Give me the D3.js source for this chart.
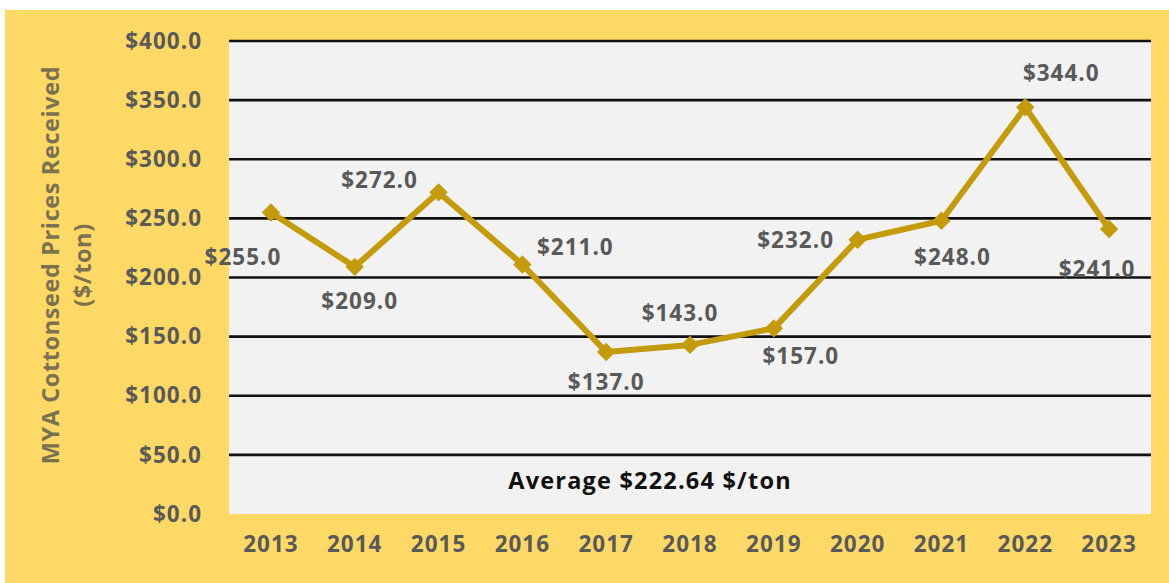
<!DOCTYPE html>
<html><head><meta charset="utf-8">
<script src="https://cdn.jsdelivr.net/npm/d3@7"></script>
<style>
html,body{margin:0;padding:0;background:#fff;}
svg text{font-family:"Open Sans",sans-serif;font-weight:700;}
</style></head>
<body>
<svg id="chart" width="1169" height="583"></svg>
<script>
const years = ["2013","2014","2015","2016","2017","2018","2019","2020","2021","2022","2023"];
const prices = [255, 209, 272, 211, 137, 143, 157, 232, 248, 344, 241];
const yTicks = [0, 50, 100, 150, 200, 250, 300, 350, 400];
const yTitleLines = ["MYA Cottonseed Prices Received", "($/ton)"];
const averageText = "Average $222.64 $/ton";
// label offsets from each point (layout only)
const labelOffsets = [[-28,45],[5,34],[-59,-12],[53,-17],[0,30],[-10,-32],[27,28],[-62,0],[11,36],[36,-34],[-12,40]];

const svg = d3.select("#chart");
svg.append("rect").attr("x",5).attr("y",10).attr("width",1164).attr("height",573).attr("fill","#FFD966");

const plot = {l:229, r:1151, t:41, b:514};
const x = d3.scaleBand().domain(years).range([plot.l, plot.r]);
const y = d3.scaleLinear().domain([0,400]).range([plot.b, plot.t]);

svg.append("rect").attr("x",plot.l).attr("y",plot.t).attr("width",plot.r-plot.l).attr("height",plot.b-plot.t).attr("fill","#F2F2F2");

// gridlines
svg.append("g").selectAll("line").data(yTicks.filter(d=>d>0)).join("line")
  .attr("x1",plot.l).attr("x2",plot.r)
  .attr("y1",d=>y(d)).attr("y2",d=>y(d))
  .attr("stroke","#111").attr("stroke-width",2.6);

const labelStyle = sel => sel.attr("fill","#595959").style("font-size","22.5px").style("letter-spacing","1px")
  .style("font-family","'Open Sans',sans-serif").style("font-weight","700");

// y axis
const yAxis = d3.axisLeft(y).tickValues(yTicks).tickSize(0).tickPadding(27).tickFormat(d=>"$"+d.toFixed(1));
const gy = svg.append("g").attr("transform",`translate(${plot.l},0)`).call(yAxis);
gy.select(".domain").remove();
gy.selectAll("text").call(labelStyle);

// x axis
const xAxis = d3.axisBottom(x).tickSize(0).tickPadding(22);
const gx = svg.append("g").attr("transform",`translate(0,${plot.b})`).call(xAxis);
gx.select(".domain").remove();
gx.selectAll("text").call(labelStyle);

// y title
const yt = svg.append("text").attr("transform","translate(51,265) rotate(-90)")
  .attr("text-anchor","middle").attr("fill","#7a7152").style("font-size","23.5px").style("letter-spacing","0.6px");
yTitleLines.forEach((t,i)=>{
  yt.append("tspan").attr("x",0).attr("dy", i===0 ? "0.35em" : "32px").text(t);
});

// line
const cx = d => x(d) + x.bandwidth()/2;
const line = d3.line().x((d,i)=>cx(years[i])).y(d=>y(d));
svg.append("path").datum(prices).attr("d",line).attr("fill","none")
  .attr("stroke","#C49B0B").attr("stroke-width",6).attr("stroke-linejoin","round");

svg.append("g").selectAll("path").data(prices).join("path")
  .attr("d", d3.symbol().type(d3.symbolSquare).size(170))
  .attr("transform",(d,i)=>`translate(${cx(years[i])},${y(d)}) rotate(45)`)
  .attr("fill","#C49B0B");

// data labels
svg.append("g").selectAll("text").data(prices).join("text")
  .attr("x",(d,i)=>cx(years[i]) + labelOffsets[i][0])
  .attr("y",(d,i)=>y(d) + labelOffsets[i][1])
  .attr("dy","0.35em").attr("text-anchor","middle")
  .call(labelStyle)
  .text(d=>"$"+d.toFixed(1));

// average text
svg.append("text").attr("x",(plot.l+plot.r)/2 - 40).attr("y",y(28)).attr("dy","0.35em")
  .attr("text-anchor","middle").attr("fill","#111").style("font-size","23.5px").style("letter-spacing","1.2px")
  .text(averageText);
</script>
</body></html>
